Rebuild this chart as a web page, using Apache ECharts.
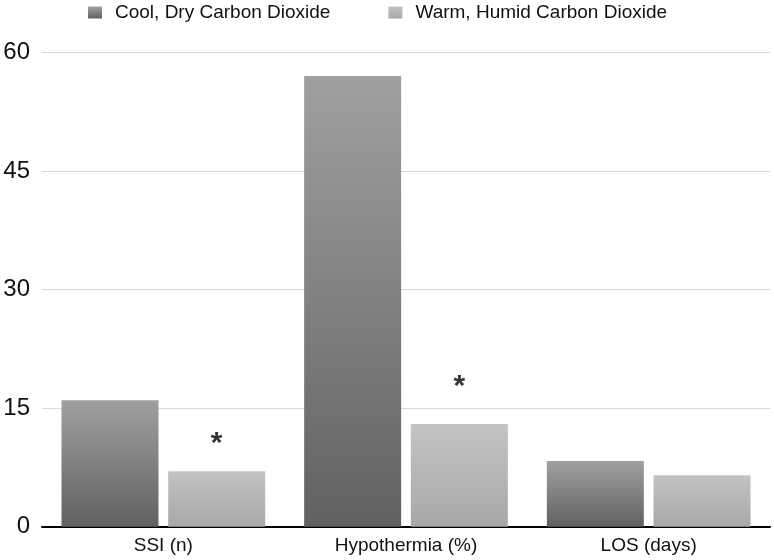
<!DOCTYPE html>
<html>
<head>
<meta charset="utf-8">
<script src="https://cdn.jsdelivr.net/npm/echarts@6/dist/echarts.min.js"></script>
<style>html,body{margin:0;padding:0;background:#fff;}#c{width:774px;height:560px;}</style>
</head>
<body>
<div id="c"></div>
<script>
const categories = ['SSI (n)', 'Hypothermia (%)', 'LOS (days)'];
const seriesNames = ['Cool, Dry Carbon Dioxide', 'Warm, Humid Carbon Dioxide'];
const coolDry = [16, 57, 8.3];
const warmHumid = [7, 13, 6.5];
const markerText = ['*', '*', ''];
const markerLevel = [11.3, 18.4, null];
const yTicks = [0, 15, 30, 45, 60];

const FONT = '"Liberation Sans", Arial, Helvetica, sans-serif';
const grad = (a, b) => new echarts.graphic.LinearGradient(0, 0, 0, 1, [{offset: 0, color: a}, {offset: 1, color: b}]);
const BAR_W = 97;

const chart = echarts.init(document.getElementById('c'));
chart.setOption({
  animation: false,
  backgroundColor: '#ffffff',
  textStyle: {fontFamily: FONT},
  legend: {
    data: seriesNames,
    left: 88, top: 3, padding: 0,
    icon: 'rect',
    itemWidth: 14, itemHeight: 12, itemGap: 58,
    textStyle: {fontSize: 19, color: '#111', fontFamily: FONT, padding: [0, 0, 0, 8]}
  },
  grid: {left: 42, right: 4, top: 52.3, bottom: 33.3},
  xAxis: {
    type: 'category', data: categories,
    axisLine: {lineStyle: {color: '#000', width: 2}},
    axisTick: {show: false},
    axisLabel: {fontSize: 19, color: '#111', margin: 10, fontFamily: FONT}
  },
  yAxis: {
    type: 'value', min: yTicks[0], max: yTicks[yTicks.length - 1], interval: 15,
    axisLine: {show: false}, axisTick: {show: false},
    axisLabel: {fontSize: 24, color: '#111', margin: 12, fontFamily: FONT},
    splitLine: {lineStyle: {color: '#d9d9d9', width: 1}}
  },
  series: [
    {
      name: seriesNames[0], type: 'bar', data: coolDry,
      barWidth: BAR_W, barGap: '10%',
      itemStyle: {color: grad('#a0a0a0', '#616161')}
    },
    {
      name: seriesNames[1], type: 'bar', data: warmHumid,
      barWidth: BAR_W, barGap: '10%',
      itemStyle: {color: grad('#c3c3c3', '#a8a8a8')}
    },
    {
      type: 'scatter', symbolSize: 0, silent: true,
      data: markerLevel.map((v, i) => v == null ? null : [i, v]),
      label: {
        show: true, position: 'inside', offset: [BAR_W * 0.55, 6],
        formatter: p => markerText[p.dataIndex],
        fontSize: 30, fontWeight: 'bold', color: '#000', fontFamily: FONT
      }
    }
  ]
});
</script>
</body>
</html>
